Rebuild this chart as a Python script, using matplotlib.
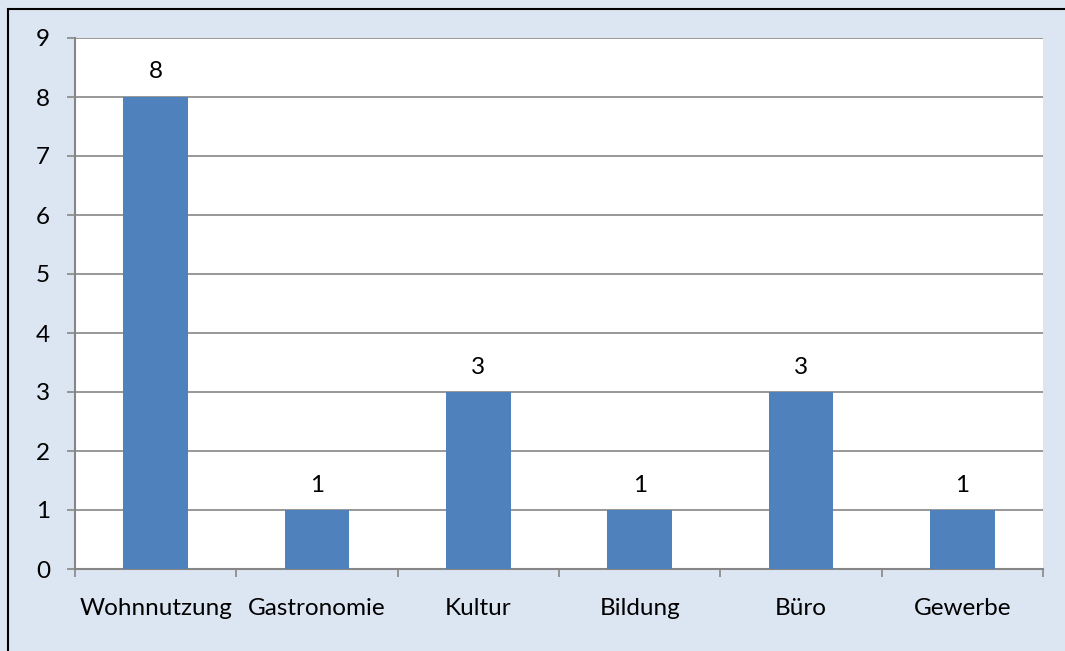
import matplotlib.pyplot as plt
from matplotlib.patches import Rectangle

categories = ["Wohnnutzung", "Gastronomie", "Kultur", "Bildung", "Büro", "Gewerbe"]
values = [8, 1, 3, 1, 3, 1]
yticks = list(range(0, 10))

bar_color = "#4F81BD"
bg_color = "#DCE6F2"
grid_color = "#868686"
fs = 17.5

plt.rcParams["font.family"] = ["Lato", "DejaVu Sans"]

fig = plt.figure(figsize=(10.65, 6.51), dpi=100)
fig.patch.set_facecolor(bg_color)
# outer frame (right/bottom edges fall outside the image)
fig.patches.append(Rectangle((8 / 1065, -0.1), 1.2, 1 - 9 / 651 + 0.1,
                             transform=fig.transFigure, fill=False,
                             edgecolor="black", linewidth=1.5))

ax = fig.add_axes([75 / 1065, 1 - 569 / 651, (1043 - 75) / 1065, (569 - 38) / 651])
ax.set_facecolor("white")

x = list(range(len(categories)))
ax.bar(x, values, width=0.4, color=bar_color, zorder=3)
for xi, v in zip(x, values):
    ax.annotate(str(v), (xi, v), xytext=(0, 18), textcoords="offset points",
                ha="center", va="center", fontsize=fs)

ax.set_xlim(-0.5, len(categories) - 0.5)
ax.set_ylim(0, 9)
ax.set_yticks(yticks)
ax.set_yticklabels([str(t) for t in yticks], fontsize=fs)
ax.yaxis.grid(True, color=grid_color, linewidth=1.2, zorder=0)

ax.set_xticks([i - 0.5 for i in range(len(categories) + 1)])
ax.set_xticklabels([])
ax.set_xticks(x, minor=True)
ax.set_xticklabels(categories, minor=True, fontsize=fs)
ax.tick_params(axis="x", which="minor", length=0, pad=21)
ax.tick_params(axis="x", which="major", length=6, color=grid_color, width=1.2)
ax.tick_params(axis="y", length=6, color=grid_color, width=1.2, pad=12)

for side in ["top", "right"]:
    ax.spines[side].set_visible(False)
for side in ["left", "bottom"]:
    ax.spines[side].set_color(grid_color)
    ax.spines[side].set_linewidth(1.5)

fig.savefig("out.png", dpi=100, facecolor=bg_color)
